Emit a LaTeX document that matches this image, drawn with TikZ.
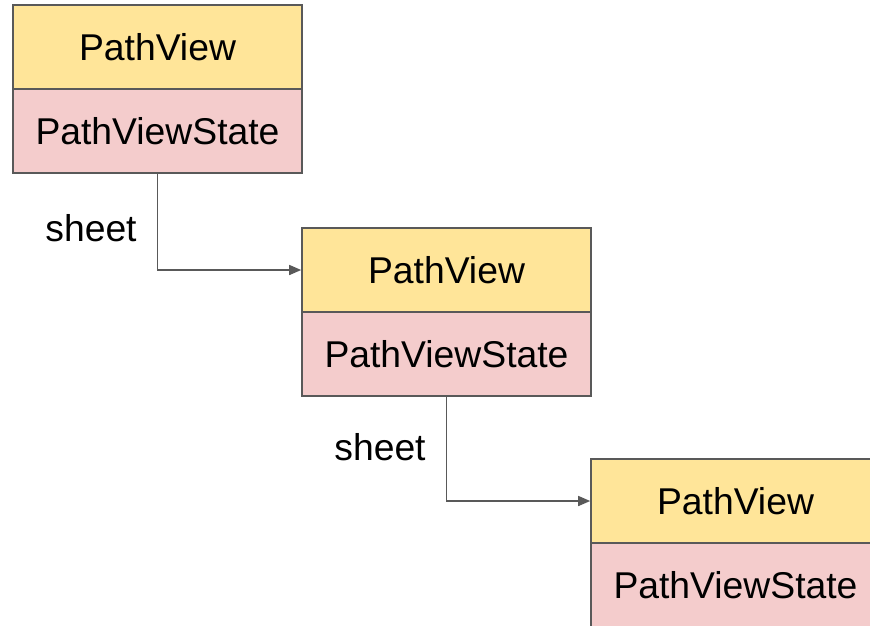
\documentclass[tikz,border=0pt]{standalone}
\usepackage{xcolor}
\usepackage{fontspec}
\setmainfont{Liberation Sans}
\usepackage{tikz}
\usetikzlibrary{arrows.meta}

\definecolor{viewcol}{HTML}{FFE599}
\definecolor{statecol}{HTML}{F4CCCC}
\definecolor{edgecol}{HTML}{595959}

\tikzset{
  viewbox/.style={draw=edgecol,line width=1.6pt,fill=viewcol,minimum width=289pt,minimum height=84pt,inner sep=0pt,font=\fontsize{37.3}{41}\selectfont},
  statebox/.style={viewbox,fill=statecol},
  link/.style={draw=edgecol,line width=1.5pt,-{Triangle[length=12pt,width=10pt]}},
  linklabel/.style={font=\fontsize{37.3}{41}\selectfont,inner sep=0pt}
}

\begin{document}
\begin{tikzpicture}[x=1pt,y=-1pt]
\useasboundingbox (0,0) rectangle (870,625);
\clip (0,0) rectangle (870,625);
\node[statebox] (s1) at (157.5,131) {PathViewState};
\node[viewbox] (v1) at (157.5,47) {PathView};
\node[statebox] (s2) at (446.5,354) {PathViewState};
\node[viewbox] (v2) at (446.5,270) {PathView};
\node[statebox] (s3) at (735.5,585) {PathViewState};
\node[viewbox] (v3) at (735.5,501) {PathView};
\node[linklabel] (l1) at (91,228) {sheet};
\node[linklabel] (l2) at (380,447) {sheet};
\draw[link] (s1.south) |- (v2.west);
\draw[link] (s2.south) |- (v3.west);
\end{tikzpicture}
\end{document}
